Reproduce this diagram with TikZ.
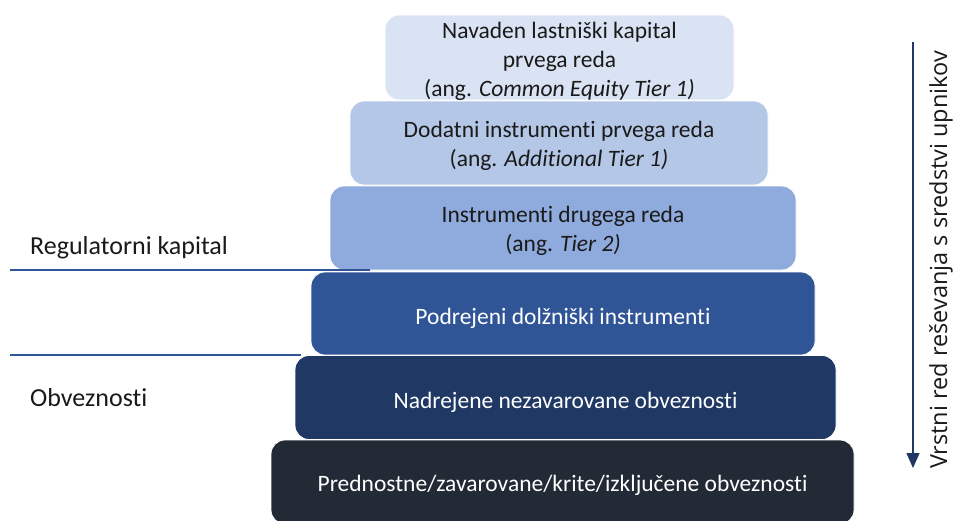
\documentclass[tikz,border=0pt]{standalone}
\usepackage{fontspec}
\setmainfont[Ligatures=NoCommon]{Carlito}
\newfontfamily\arrowfont{Open Sans}
\usetikzlibrary{arrows.meta}
\definecolor{cA}{HTML}{DAE3F3}
\definecolor{cB}{HTML}{B4C7E7}
\definecolor{cC}{HTML}{8FAADC}
\definecolor{cD}{HTML}{2F5597}
\definecolor{cE}{HTML}{203864}
\definecolor{cF}{HTML}{222A35}
\definecolor{lineblue}{HTML}{2F5597}
\definecolor{arrowblue}{HTML}{1F3864}
\definecolor{txt}{HTML}{1A1A1A}
\tikzset{
  tier/.style={draw=white, line width=0.8pt, rounded corners=14pt, inner sep=0pt},
  tiertext/.style={inner sep=0pt, align=center, font=\fontsize{23.5}{29}\selectfont},
  sidelabel/.style={anchor=west, inner sep=0pt, text=txt, font=\fontsize{26}{30}\selectfont},
  sepline/.style={draw=lineblue, line width=1.1pt},
}
\begin{document}
\begin{tikzpicture}[x=1pt,y=-1pt]
\clip (0,0) rectangle (958,520);
\fill[white] (0,0) rectangle (958,520);
\node[tier, fill=cA, minimum width=349pt, minimum height=85pt] (t1) at (559.5,57.5) {};
\node[tier, fill=cB, minimum width=418pt, minimum height=84pt] (t2) at (559,143) {};
\node[tier, fill=cC, minimum width=466pt, minimum height=84pt] (t3) at (563,228) {};
\node[tier, fill=cD, minimum width=504pt, minimum height=83pt] (t4) at (563,313.5) {};
\node[tier, fill=cE, minimum width=541pt, minimum height=84pt] (t5) at (565.5,397.5) {};
\node[tier, fill=cF, minimum width=583pt, minimum height=84pt] (t6) at (562.5,482) {};
\node[tiertext, text=txt, yshift=-3.5pt] (t1txt) at (t1.center)
  {Navaden lastniški kapital\\ prvega reda\\ (ang. \textit{Common Equity Tier 1)}};
\node[tiertext, text=txt, yshift=-3pt] (t2txt) at (t2.center)
  {Dodatni instrumenti prvega reda\\ (ang. \textit{Additional Tier 1)}};
\node[tiertext, text=txt, yshift=-3pt] (t3txt) at (t3.center)
  {Instrumenti drugega reda\\ (ang. \textit{Tier 2)}};
\node[tiertext, text=white, yshift=-4.5pt] (t4txt) at (t4.center)
  {Podrejeni dolžniški instrumenti};
\node[tiertext, text=white, yshift=-4.5pt] (t5txt) at (t5.center)
  {Nadrejene nezavarovane obveznosti};
\node[tiertext, text=white, yshift=-3pt] (t6txt) at (t6.center)
  {Prednostne/zavarovane/krite/izključene obveznosti};
% left labels and separators
\node[sidelabel] (reg) at (30,248) {Regulatorni kapital};
\node[sidelabel] (obv) at (30,398) {Obveznosti};
\coordinate (l1a) at (10,270);
\coordinate (l1b) at (370,270);
\coordinate (l2a) at (10,355);
\coordinate (l2b) at (301,355);
\draw[sepline] (l1a) -- (l1b);
\draw[sepline] (l2a) -- (l2b);
% arrow and rotated text
\coordinate (ar1) at (913,42);
\coordinate (ar2) at (913,468);
\draw[arrowblue, line width=1.3pt, -{Triangle[width=13pt,length=15pt]}] (ar1) -- (ar2);
\node[rotate=90, inner sep=0pt, text=txt, font=\arrowfont\fontsize{23.5}{26}\selectfont] (ord) at (941,260)
  {Vrstni red reševanja s sredstvi upnikov};
\end{tikzpicture}
\end{document}
